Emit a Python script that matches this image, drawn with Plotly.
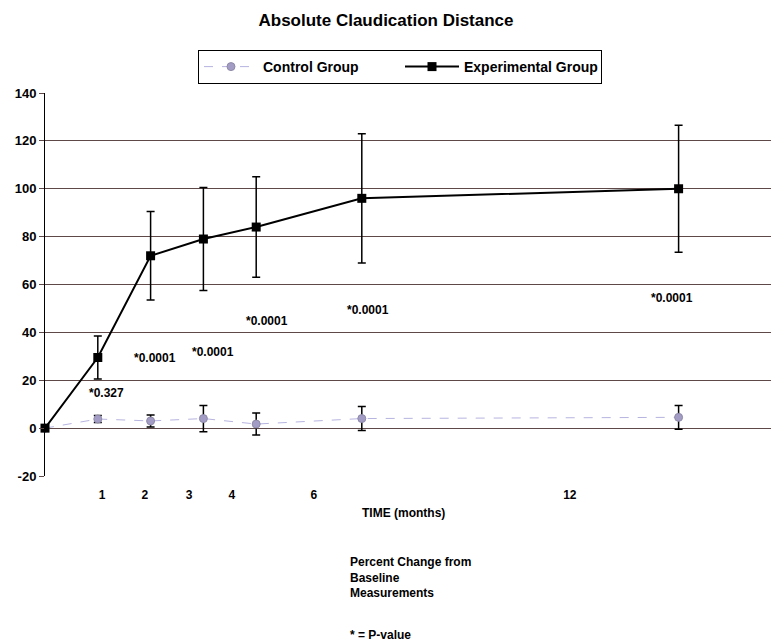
import plotly.graph_objects as go

# ---- data ----
months = [0, 1, 2, 3, 4, 6, 12]
exp_mean = [0, 29.5, 72, 79, 84, 96, 100]
exp_err = [0, 9, 18.5, 21.5, 21, 27, 26.5]
ctl_mean = [0, 3.8, 3, 4, 1.7, 4, 4.5]
ctl_err = [0, 1.5, 2.5, 5.5, 4.6, 5, 5]

y_ticks = [-20, 0, 20, 40, 60, 80, 100, 120, 140]
y_tick_labels = ["-20", "0", "20", "40", "60", "80", "100", "120", "140"]

tick_labels = ["1", "2", "3", "4", "6", "12"]
# (the scanned original prints the month labels shifted from the data points)
tick_positions = [1.08, 1.89, 2.73, 3.54, 5.09, 9.94]

pvals = ["*0.327", "*0.0001", "*0.0001", "*0.0001", "*0.0001", "*0.0001"]
pval_x = [1.17, 2.08, 3.18, 4.2, 6.12, 11.88]
pval_y = [14.6, 29.3, 31.8, 44.8, 49.4, 54.4]

FONT = "Liberation Sans"
GRID = "#5e4848"

fig = go.Figure()
fig.add_trace(go.Scatter(
    x=months, y=ctl_mean, name="Control Group", mode="lines+markers",
    line=dict(color="#b7b4e0", width=1, dash="dash"),
    marker=dict(symbol="circle", size=8, color="#a39cc4", line=dict(color="#8f8aa8", width=1)),
    error_y=dict(type="data", array=ctl_err, color="black", thickness=1.5, width=4),
    cliponaxis=False,
))
fig.add_trace(go.Scatter(
    x=months, y=exp_mean, name="Experimental Group", mode="lines+markers",
    line=dict(color="black", width=2),
    marker=dict(symbol="square", size=9, color="black"),
    error_y=dict(type="data", array=exp_err, color="black", thickness=1.5, width=4),
    cliponaxis=False,
))

for t, x, y in zip(pvals, pval_x, pval_y):
    fig.add_annotation(x=x, y=y, text=t, showarrow=False,
                       font=dict(family=FONT, size=12, color="black", weight="bold"))

fig.add_annotation(xref="paper", yref="paper", x=(403 - 45) / 726, y=-(522 - 476) / 383,
                   text="TIME (months)", showarrow=False,
                   font=dict(family=FONT, size=12, color="black", weight="bold"))
fig.add_annotation(xref="paper", yref="paper", x=(348 - 45) / 726, y=-(553 - 476) / 383,
                   xanchor="left", yanchor="top", align="left",
                   text="Percent Change from<br>Baseline<br>Measurements", showarrow=False,
                   font=dict(family=FONT, size=12, color="black", weight="bold"))
fig.add_annotation(xref="paper", yref="paper", x=(348 - 45) / 726, y=-(635 - 476) / 383,
                   xanchor="left", yanchor="middle", align="left",
                   text="* = P-value", showarrow=False,
                   font=dict(family=FONT, size=12, color="black", weight="bold"))

fig.update_layout(
    width=771, height=641,
    margin=dict(l=45, r=0, t=93, b=165),
    paper_bgcolor="white", plot_bgcolor="white",
    title=dict(text="Absolute Claudication Distance", x=386 / 771, xanchor="center",
               y=1 - 20 / 641, yanchor="middle",
               font=dict(family=FONT, size=17, color="black", weight="bold")),
    showlegend=True,
    legend=dict(orientation="h", x=(198 - 45) / 726, xanchor="left",
                y=1 + (93 - 50) / 383, yanchor="top",
                bordercolor="black", borderwidth=1, bgcolor="white",
                itemwidth=54, entrywidth=132, entrywidthmode="pixels",
                font=dict(family=FONT, size=14, color="black", weight="bold")),
    xaxis=dict(range=[0, 13.75], tickvals=tick_positions, ticktext=tick_labels,
               showgrid=False, zeroline=False, showline=False, ticks="",
               ticklabelstandoff=10,
               tickfont=dict(family=FONT, size=12, color="black", weight="bold")),
    yaxis=dict(range=[-20, 140], tickvals=y_ticks, ticktext=y_tick_labels,
               showgrid=True, gridcolor=GRID, gridwidth=1,
               zeroline=False, showline=True, linecolor="black", linewidth=1,
               ticks="outside", ticklen=5, tickcolor=GRID,
               tickfont=dict(family=FONT, size=13, color="black", weight="bold")),
)

fig.write_html("out.html")
